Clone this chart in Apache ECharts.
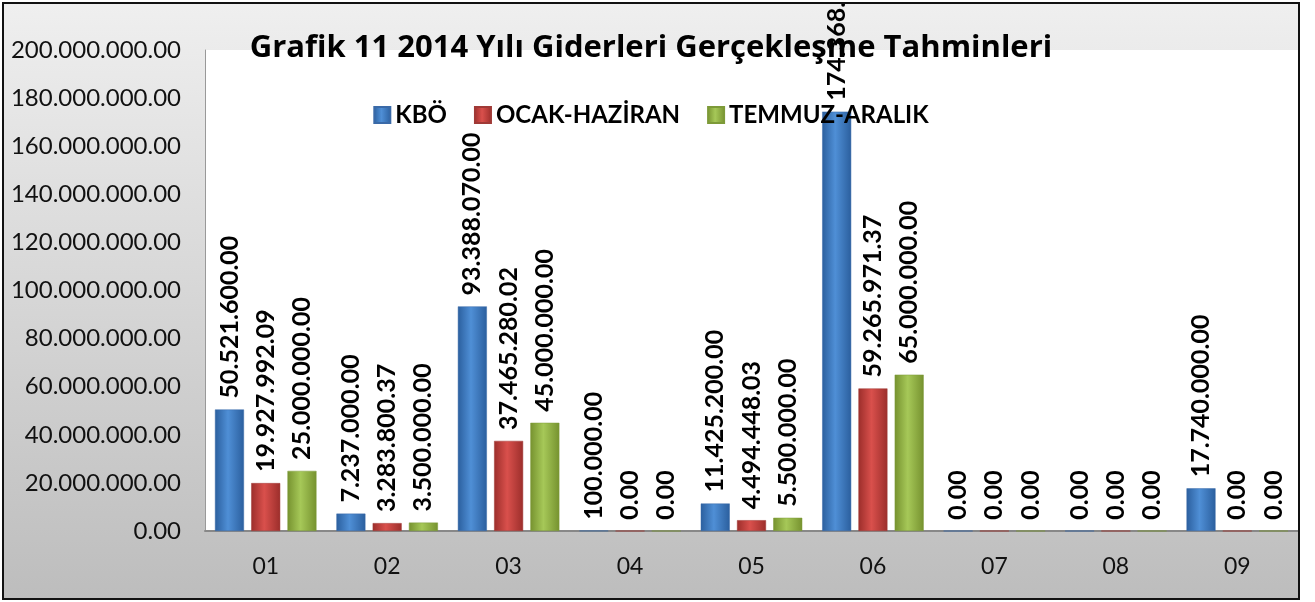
<!DOCTYPE html>
<html>
<head>
<meta charset="utf-8">
<script src="https://cdn.jsdelivr.net/npm/echarts@6/dist/echarts.min.js"></script>
<style>
    body { margin: 0; background: #fff; }
    .wrap {
        position: absolute; left: 2px; top: 2px;
        width: 1294px; height: 594px;
        border: 2px solid #111;
        overflow: hidden;
        background: linear-gradient(#efefef, #bdbdbd);
    }
    #main { width: 1294px; height: 594px; }
</style>
</head>
<body>
<div class="wrap"><div id="main"></div></div>
<script>
    var categories = ['01', '02', '03', '04', '05', '06', '07', '08', '09'];
    var kbo = [50521600, 7237000, 93388070, 100000, 11425200, 174368130, 0, 0, 17740000];
    var ocakHaziran = [19927992.09, 3283800.37, 37465280.02, 0, 4494448.03, 59265971.37, 0, 0, 0];
    var temmuzAralik = [25000000, 3500000, 45000000, 0, 5500000, 65000000, 0, 0, 0];

    // 1234567.8 -> 1.234.567.80
    function fmt(v) {
        var s = Number(v).toFixed(2);
        var p = s.split('.');
        return p[0].replace(/\B(?=(\d{3})+(?!\d))/g, '.') + '.' + p[1];
    }

    function barColor(edge, mid) {
        return new echarts.graphic.LinearGradient(0, 0, 1, 0, [
            { offset: 0, color: edge },
            { offset: 0.45, color: mid },
            { offset: 1, color: edge }
        ]);
    }

    var labelStyle = {
        show: true,
        position: 'top',
        rotate: 90,
        align: 'left',
        verticalAlign: 'middle',
        distance: 11,
        color: '#000',
        fontWeight: 'bold',
        fontSize: 25,
        fontFamily: 'Lato',
        formatter: function (p) { return fmt(p.value); }
    };

    var myChart = echarts.init(document.getElementById('main'));
    myChart.setOption({
        animation: false,
        textStyle: { fontFamily: 'Lato' },
        title: {
            text: 'Grafik 11 2014 Yılı Giderleri Gerçekleşme Tahminleri',
            left: 'center',
            top: 24,
            textStyle: { fontSize: 31, fontWeight: 'bold', color: '#000', fontFamily: 'Open Sans' }
        },
        legend: {
            data: ['KBÖ', 'OCAK-HAZİRAN', 'TEMMUZ-ARALIK'],
            top: 94,
            left: 'center',
            itemWidth: 16,
            itemHeight: 16,
            itemGap: 27,
            icon: 'rect',
            textStyle: { fontSize: 24, fontWeight: 'bold', color: '#000' }
        },
        grid: {
            left: 201,
            right: 0,
            top: 46,
            height: 481,
            show: true,
            backgroundColor: '#fff',
            borderWidth: 0
        },
        xAxis: {
            type: 'category',
            data: categories,
            axisTick: { show: false },
            axisLine: { lineStyle: { color: '#888', width: 2 } },
            axisLabel: { fontSize: 23, color: '#111', margin: 24 }
        },
        yAxis: {
            type: 'value',
            min: 0,
            max: 200000000,
            interval: 20000000,
            axisLine: { show: true, lineStyle: { color: '#999', width: 1 } },
            axisTick: { show: false },
            splitLine: { show: false },
            axisLabel: {
                fontSize: 24,
                color: '#111',
                margin: 24,
                formatter: fmt
            }
        },
        series: [
            {
                name: 'KBÖ',
                type: 'bar',
                data: kbo,
                barWidth: 29,
                barGap: '25%',
                itemStyle: { color: barColor('#2b5f9e', '#4f8fd6'), borderColor: '#3a6aa8', borderWidth: 0.5 },
                label: labelStyle
            },
            {
                name: 'OCAK-HAZİRAN',
                type: 'bar',
                data: ocakHaziran,
                barWidth: 29,
                barGap: '25%',
                itemStyle: { color: barColor('#9c2e2b', '#d9504c'), borderColor: '#a03a37', borderWidth: 0.5 },
                label: labelStyle
            },
            {
                name: 'TEMMUZ-ARALIK',
                type: 'bar',
                data: temmuzAralik,
                barWidth: 29,
                barGap: '25%',
                itemStyle: { color: barColor('#76922f', '#a6c858'), borderColor: '#7d9a38', borderWidth: 0.5 },
                label: labelStyle
            }
        ]
    });
</script>
</body>
</html>
